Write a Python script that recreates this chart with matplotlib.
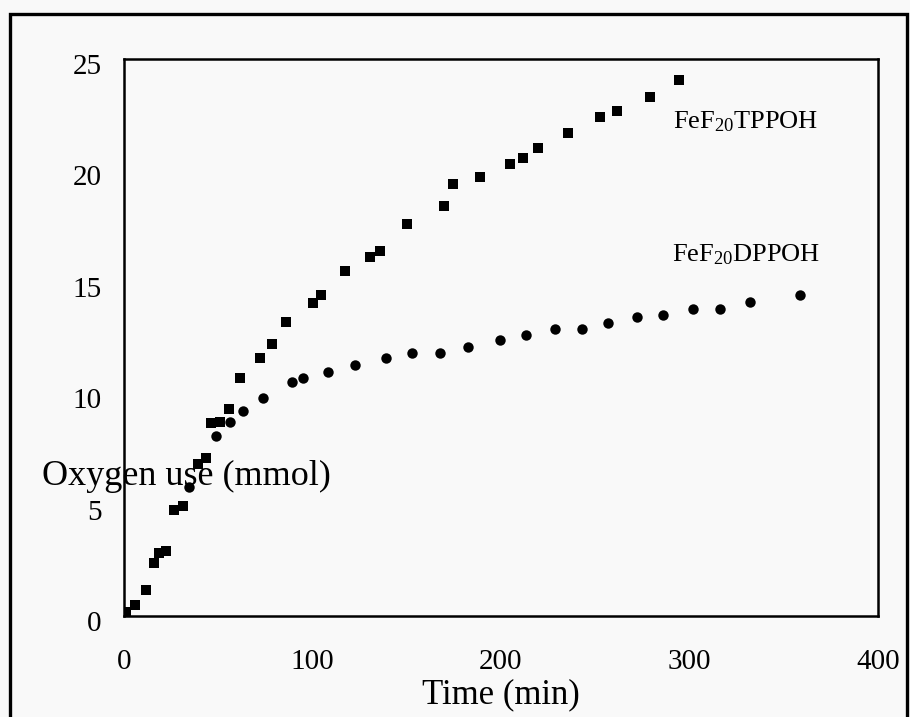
import matplotlib
matplotlib.use("Agg")
import matplotlib.pyplot as plt
from matplotlib.patches import Rectangle
from matplotlib.transforms import ScaledTranslation

# ---- data ----
tppoh_x = [1, 6, 11.7, 15.9, 18.5, 22.5, 26.5, 31.5, 39.5, 43.5, 46, 51, 55.7,
           61.5, 72, 78.5, 86, 100, 104.5, 117, 130.5, 136, 150, 170, 174.5,
           189, 205, 211.7, 219.6, 235.5, 252.5, 261.5, 279, 294.4]
tppoh_y = [0.2, 0.5, 1.17, 2.38, 2.85, 2.9, 4.75, 4.95, 6.8, 7.1, 8.65, 8.7, 9.3,
           10.7, 11.6, 12.2, 13.2, 14.05, 14.4, 15.5, 16.1, 16.4, 17.6, 18.4, 19.4,
           19.7, 20.3, 20.55, 21.0, 21.7, 22.4, 22.67, 23.3, 24.06]

dppoh_x = [0, 34.5, 49, 56, 63, 74, 89, 95, 108, 122.5, 139, 153, 167.6, 182.5,
           199.5, 213, 228.6, 243, 256.8, 272, 286, 302, 316, 332, 358.6]
dppoh_y = [0, 5.8, 8.1, 8.7, 9.2, 9.8, 10.5, 10.7, 10.95, 11.27, 11.6, 11.8, 11.8,
           12.07, 12.4, 12.6, 12.9, 12.9, 13.15, 13.4, 13.5, 13.8, 13.8, 14.1, 14.4]

x_ticks = [0, 100, 200, 300, 400]
y_ticks = [0, 5, 10, 15, 20, 25]
label_tppoh = "FeF$_{20}$TPPOH"
label_dppoh = "FeF$_{20}$DPPOH"

plt.rcParams['font.family'] = ['Liberation Serif', 'DejaVu Serif']
plt.rcParams['mathtext.fontset'] = 'custom'
plt.rcParams['mathtext.rm'] = 'Liberation Serif'
plt.rcParams['mathtext.it'] = 'Liberation Serif'

bg = '#f9f9f9'
fig = plt.figure(figsize=(9.1, 7.17), dpi=100, facecolor=bg)
ax = fig.add_axes([124/910, 1 - 616/717, (878-124)/910, (616-59)/717])
ax.set_facecolor(bg)

ax.plot(tppoh_x, tppoh_y, linestyle='none', marker='s', ms=7.5, color='black',
        markeredgewidth=0)
ax.plot(dppoh_x, dppoh_y, linestyle='none', marker='o', ms=7.5, color='black',
        markeredgewidth=0)

ax.set_xlim(0, 400)
ax.set_ylim(0, 25)
ax.set_xticks(x_ticks)
ax.set_yticks(y_ticks)
ax.tick_params(axis='both', length=0, labelsize=21)
ax.tick_params(axis='x', pad=24)
ax.tick_params(axis='y', pad=16)
shift = ScaledTranslation(0, -5/100, fig.dpi_scale_trans)
for lab in ax.get_yticklabels():
    lab.set_transform(lab.get_transform() + shift)
for s in ax.spines.values():
    s.set_linewidth(1.8)

ax.text(0.5, -0.142, "Time (min)", transform=ax.transAxes, ha='center',
        va='center', fontsize=25)
ax.text(110, 6.24, "Oxygen use (mmol)", ha='right', va='center', fontsize=26,
        clip_on=False)

ax.text(291, 22.2, label_tppoh, ha='left', va='center', fontsize=19)
ax.text(290.7, 16.2, label_dppoh, ha='left', va='center', fontsize=19)

# outer frame
fig.patches.append(Rectangle((10/910, -0.02), (907-10)/910, 1.02 - 14/717,
                             transform=fig.transFigure, fill=False,
                             edgecolor='black', linewidth=2.4))

fig.savefig("out.png", dpi=100, facecolor=bg)
